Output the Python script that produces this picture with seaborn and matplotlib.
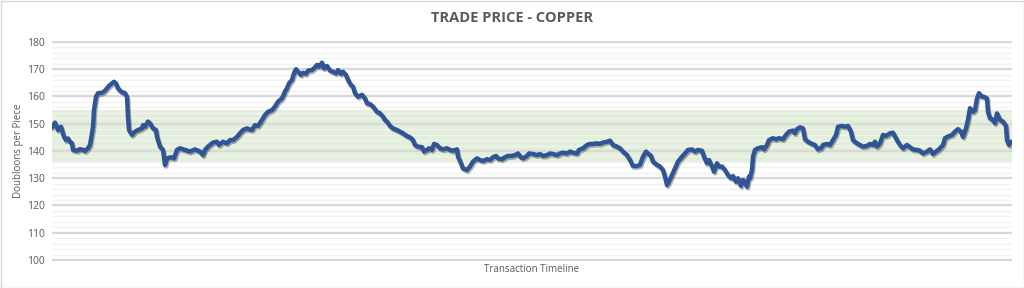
import numpy as np
import pandas as pd
import matplotlib
matplotlib.use("Agg")
import matplotlib.pyplot as plt
import matplotlib.patheffects as pe
from matplotlib.ticker import MultipleLocator, NullFormatter
import seaborn as sns

transaction = [0, 3, 6, 9, 12, 14, 16, 18, 20, 21, 25, 28, 31, 33, 36, 38, 40, 41, 42, 44, 46, 50, 52, 55, 57, 60, 62, 64, 66, 69, 73, 75, 76, 77, 80, 83, 86, 90, 91, 93, 96, 98, 101, 104, 105, 108, 111, 113, 115, 119, 122, 125, 128, 133, 138,
               143, 148, 151, 153, 156, 161, 165, 167, 171, 175, 178, 181, 185, 188, 191, 195, 197, 200, 203, 206, 210, 213, 216, 220, 223, 226, 230, 233, 235, 237, 240, 242, 244, 246, 249, 251, 254, 256, 260, 262, 265, 267, 270, 272, 275, 278,
               281, 284, 286, 289, 291, 294, 296, 299, 301, 303, 306, 310, 313, 315, 318, 321, 325, 328, 331, 333, 335, 338, 341, 345, 348, 351, 355, 358, 361, 363, 366, 370, 372, 375, 377, 380, 382, 385, 388, 391, 395, 398, 401, 405, 406, 409, 411, 415, 418,
               421, 425, 428, 431, 435, 438, 441, 444, 446, 450, 453, 456, 460, 463, 466, 469, 471, 475, 477, 481, 485, 488, 491, 495, 498, 501, 505, 508, 511, 515, 518, 521, 525, 527, 531, 535, 538, 541, 545, 548, 551, 555, 558,
               561, 565, 568, 571, 575, 578, 581, 585, 588, 591, 594, 596, 599, 601, 605, 608, 611, 613, 615, 617, 620, 623, 626, 630, 633, 636, 640, 643, 646, 650, 652, 655, 657, 660, 662, 665, 667, 670, 673, 676, 679, 681, 684, 686, 689, 691, 693, 695, 697,
               698, 700, 701, 703, 706, 710, 712, 715, 717, 721, 724, 727, 731, 734, 737, 741, 743, 745, 748, 751, 753, 756, 760, 763, 766, 769, 771, 775, 778, 781, 784, 786, 790, 793, 796, 799, 801, 805, 808, 811, 815, 818, 821, 823, 825, 828, 831, 834, 838,
               841, 845, 848, 851, 855, 858, 861, 865, 868, 871, 875, 878, 881, 884, 887, 891, 893, 896, 900, 903, 906, 909, 911, 914, 916, 918, 921, 923, 925, 927, 930, 932, 935, 936, 938, 941, 943, 945, 948, 951, 954, 955, 957, 959]

price = [148.7, 150.4, 147.7, 148.9, 145.2, 144.0, 144.6, 143.4, 142.8, 140.4, 140.1, 140.7, 140.4, 140.0, 141.0, 142.2, 146.5, 148.9, 155.0, 159.9, 161.2, 161.4, 161.8, 163.0, 163.9, 164.8, 165.4, 164.8, 163.0, 161.8, 161.2, 159.9, 152.6, 147.7, 145.9, 147.1, 147.7, 148.3, 149.5, 148.9, 150.8, 150.2, 148.3, 147.7, 145.2, 141.6, 140.4, 134.9, 137.3, 137.7, 137.3, 140.4, 141.0, 140.4, 139.8,
         140.6, 139.8, 138.5, 140.4, 141.6, 143.1, 143.4, 142.2, 143.4, 142.8, 144.0, 144.0, 145.2, 146.5, 147.7, 148.3, 148.0, 147.7, 149.5, 149.2, 151.4, 153.2, 154.4, 155.0, 156.3, 158.1, 159.3, 161.8, 163.0, 164.8, 166.1, 168.5, 170.0, 169.1, 167.9, 168.7, 168.3, 169.5, 169.7, 170.3, 171.6, 171.0, 172.4, 170.3, 171.2, 169.5,
         169.1, 168.5, 169.7, 168.3, 169.1, 167.9, 166.1, 164.2, 163.6, 161.2, 159.9, 160.6, 159.3, 157.5, 157.2, 156.3, 154.4, 153.8, 152.6, 151.4, 150.8, 149.2, 148.3, 147.7, 147.1, 146.5, 145.5, 145.0, 144.0, 142.2, 141.6, 141.4, 139.8, 140.4, 141.0, 140.4, 142.6, 142.2, 141.0, 140.6, 141.0, 140.4, 140.1, 140.6, 137.9, 135.5, 133.6, 133.0, 134.3,
         136.1, 137.3, 136.7, 136.3, 137.0, 136.7, 137.7, 138.2, 137.3, 137.0, 137.7, 138.2, 138.2, 138.5, 139.1, 137.7, 137.3, 138.2, 139.1, 138.9, 138.5, 138.9, 138.2, 138.5, 139.1, 138.9, 138.5, 139.1, 139.4, 139.1, 139.8, 139.4, 139.1, 140.4, 141.0, 142.2, 142.6, 142.6, 142.8, 142.6, 143.1, 143.4, 143.8,
         142.2, 141.6, 141.0, 139.8, 138.5, 136.7, 134.5, 134.5, 134.9, 137.9, 139.8, 139.1, 138.2, 136.1, 134.9, 134.3, 133.0, 130.6, 127.5, 128.7, 131.2, 133.6, 136.1, 137.9, 139.1, 140.4, 140.6, 139.8, 140.4, 140.1, 137.9, 135.5, 136.7, 134.3, 132.4, 135.5, 134.3, 134.3, 133.0, 131.2, 130.0, 130.8, 128.7, 130.0, 127.2, 129.4, 128.7, 126.9, 130.6,
         130.0, 133.0, 137.9, 140.4, 141.0, 141.4, 140.6, 142.2, 144.0, 144.7, 144.3, 144.7, 144.3, 145.9, 147.1, 147.5, 146.5, 148.0, 148.7, 148.3, 144.3, 143.4, 142.6, 142.2, 140.6, 141.0, 142.2, 142.6, 142.2, 144.0, 145.9, 148.9, 149.2, 148.9, 149.2, 147.1, 144.0, 142.8, 142.2, 141.6, 141.9, 142.6, 142.2, 143.4, 141.6, 142.8, 145.9, 145.5, 146.5,
         146.7, 144.0, 142.2, 141.0, 142.2, 141.4, 140.6, 140.4, 140.1, 139.1, 139.8, 140.6, 138.9, 139.8, 140.6, 142.2, 144.7, 145.3, 145.9, 147.1, 148.0, 147.1, 145.2, 148.3, 151.4, 155.7, 154.4, 155.0, 159.3, 161.2, 159.9, 159.9, 159.3, 154.4, 152.0, 151.4, 150.2, 153.8, 151.4, 150.8, 149.2, 144.0, 142.2, 143.4]

band_low = 135.6
band_high = 155.0
y_ticks = [100, 110, 120, 130, 140, 150, 160, 170, 180]

title = "TRADE PRICE - COPPER"
x_label = "Transaction Timeline"
y_label = "Doubloons per Piece"

df = pd.DataFrame({"transaction": transaction, "price": price})

sns.set_style("white")
plt.rcParams['font.family'] = ['Open Sans', 'DejaVu Sans']

W, H = 1024, 288
fig = plt.figure(figsize=(W / 100, H / 100), dpi=100)
fig.patch.set_facecolor("white")

pad = 0.4
ppu = 218 / 80.0
top_px = 42 - pad * ppu
bot_px = 260 + pad * ppu
left_px, right_px = 52, 1012
ax = fig.add_axes([left_px / W, 1 - bot_px / H, (right_px - left_px) / W, (bot_px - top_px) / H])

ax.axhspan(band_low, band_high, color="#e2efda", zorder=0.5, lw=0)

sns.lineplot(data=df, x="transaction", y="price", ax=ax, color="#2f5597",
             linewidth=3.2, zorder=3,
             path_effects=[pe.SimpleLineShadow(offset=(0.8, -1.2), shadow_color="black", alpha=0.3),
                           pe.Normal()])

ax.set_xlim(0, 960)
ax.set_ylim(100 - pad, 180 + pad)
ax.set_yticks(y_ticks)
ax.yaxis.set_minor_locator(MultipleLocator(2))
ax.set_xticks([])
ax.grid(True, which="major", axis="y", color="#d9d9d9", linewidth=1.6, zorder=1)
ax.grid(True, which="minor", axis="y", color="#f2f2f2", linewidth=1.0, zorder=0.8)
ax.set_axisbelow(True)
for s in ax.spines.values():
    s.set_visible(False)
ax.tick_params(axis="y", which="both", length=0, labelsize=7.5, labelcolor="#595959", pad=5)
ax.set_facecolor("none")

ax.set_xlabel(x_label, fontsize=7, color="#595959", labelpad=2)
ax.set_ylabel(y_label, fontsize=7, color="#595959", labelpad=2)

fig.text(0.5, 1 - 18 / H, title, ha="center", va="center", fontsize=10.5, fontweight="bold", color="#595959")

fig.add_artist(plt.Rectangle((0.5 / W, 0.5 / H), 1 - 1 / W, 1 - 1 / H, transform=fig.transFigure,
                             fill=False, edgecolor="#d9d9d9", linewidth=1.0))

fig.savefig("out.png", dpi=100, facecolor="white")
